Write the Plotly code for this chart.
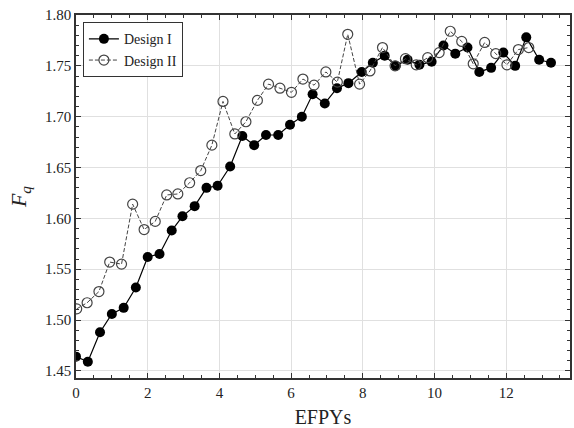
import plotly.graph_objects as go

# Design I
efpy_1 = [0.0, 0.33, 0.67, 1.0, 1.33, 1.67, 2.0, 2.33, 2.67, 2.97, 3.31, 3.64, 3.95, 4.3,
          4.64, 4.97, 5.3, 5.64, 5.97, 6.3, 6.6, 6.94, 7.28, 7.6, 7.97, 8.28, 8.61, 8.92,
          9.25, 9.58, 9.92, 10.25, 10.58, 10.92, 11.25, 11.58, 11.92, 12.25, 12.56, 12.92, 13.25]
fq_1 = [1.464, 1.459, 1.488, 1.506, 1.512, 1.532, 1.562, 1.565, 1.588, 1.602, 1.612, 1.630,
        1.632, 1.651, 1.681, 1.672, 1.682, 1.682, 1.692, 1.700, 1.722, 1.713, 1.728, 1.733,
        1.744, 1.753, 1.760, 1.750, 1.756, 1.751, 1.754, 1.770, 1.762, 1.768, 1.744, 1.748,
        1.763, 1.750, 1.778, 1.756, 1.753]

# Design II
efpy_2 = [0.02, 0.31, 0.64, 0.94, 1.27, 1.58, 1.90, 2.21, 2.53, 2.84, 3.17, 3.48, 3.79, 4.10,
          4.43, 4.74, 5.06, 5.37, 5.69, 6.01, 6.33, 6.64, 6.97, 7.29, 7.58, 7.91, 8.20, 8.55,
          8.90, 9.19, 9.49, 9.81, 10.13, 10.44, 10.76, 11.08, 11.40, 11.71, 12.02, 12.34, 12.63]
fq_2 = [1.511, 1.517, 1.528, 1.557, 1.555, 1.614, 1.589, 1.597, 1.623, 1.624, 1.635, 1.647,
        1.672, 1.715, 1.683, 1.695, 1.716, 1.732, 1.728, 1.724, 1.737, 1.731, 1.744, 1.734,
        1.781, 1.732, 1.745, 1.768, 1.750, 1.757, 1.751, 1.758, 1.763, 1.784, 1.774, 1.752,
        1.773, 1.762, 1.751, 1.766, 1.768]

x_ticks = [0, 2, 4, 6, 8, 10, 12]
y_ticks = [1.45, 1.50, 1.55, 1.60, 1.65, 1.70, 1.75, 1.80]
y_tick_labels = ["1.45", "1.50", "1.55", "1.60", "1.65", "1.70", "1.75", "1.80"]

FONT = "Liberation Serif"

fig = go.Figure()
fig.add_trace(go.Scatter(
    x=efpy_1, y=fq_1, name="Design I", mode="lines+markers",
    line=dict(color="black", width=1.2),
    marker=dict(symbol="circle", size=10, color="black"),
))
fig.add_trace(go.Scatter(
    x=efpy_2, y=fq_2, name="Design II", mode="lines+markers",
    line=dict(color="#444444", width=1, dash="4px,2px"),
    marker=dict(symbol="circle-open", size=10, color="#444444", line=dict(width=1.2)),
))

axis_common = dict(
    showline=True, linecolor="#333333", linewidth=1.5, mirror="ticks",
    ticks="inside", ticklen=5, tickwidth=1, tickcolor="#333333",
    showgrid=True, gridcolor="#e0e0e0", gridwidth=1, zeroline=False,
    tickfont=dict(family=FONT, size=15, color="#222222"),
)

fig.update_xaxes(
    range=[0, 13.78], tickvals=x_ticks,
    minor=dict(dtick=0.5, ticks="inside", ticklen=3, tickcolor="#333333", showgrid=False),
    title=dict(text="EFPYs", font=dict(family=FONT, size=20, color="#222222"), standoff=11),
    **axis_common,
)
fig.update_yaxes(
    range=[1.443, 1.80], tickvals=y_ticks, ticktext=y_tick_labels,
    minor=dict(dtick=0.01, ticks="inside", ticklen=3, tickcolor="#333333", showgrid=False),
    title=dict(text="<i>F</i><sub><i>q</i></sub>", font=dict(family=FONT, size=22, color="#222222"), standoff=12),
    **axis_common,
)

fig.update_layout(
    width=574, height=428,
    margin=dict(l=76, r=2, t=15, b=49),
    paper_bgcolor="white", plot_bgcolor="white",
    font=dict(family=FONT, color="#222222"),
    legend=dict(
        x=0.014, y=0.98, xanchor="left", yanchor="top",
        bgcolor="white", bordercolor="#333333", borderwidth=1,
        font=dict(family=FONT, size=14, color="#222222"),
        tracegroupgap=0, itemwidth=30,
    ),
    showlegend=True,
)

fig.write_html("out.html")
